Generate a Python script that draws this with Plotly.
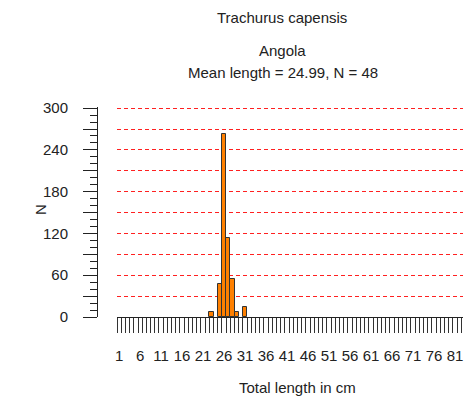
import plotly.graph_objects as go

# Data
lengths = [23, 25, 26, 27, 28, 29, 31]
counts = [7, 47, 263, 113, 55, 7, 15]
x_tick_vals = list(range(1, 82, 5))
y_major_ticks = list(range(0, 301, 30))
y_major_text = [str(v) if v % 60 == 0 else "" for v in y_major_ticks]
y_small_ticks = list(range(0, 301, 10))

title1 = "Trachurus capensis"
title2 = "Angola"
title3 = "Mean length = 24.99, N = 48"
x_title = "Total length in cm"
y_title = "N"

W, H = 465, 398
ML, MR, MT, MB = 97, 2, 107, 81
PW = W - ML - MR
PH = H - MT - MB
Y_RANGE = [0, 301.6]

def px_x(p):
    return (p - ML) / PW

def px_y(p):
    return (H - MB - p) / PH

FONT = "Liberation Sans, Arial, sans-serif"
TXT = "#222222"
GRID = "#FF2020"
AX = "#222222"

fig = go.Figure()
fig.add_trace(
    go.Bar(
        x=lengths,
        y=counts,
        width=1,
        marker=dict(color="#FF8000", line=dict(color="#333333", width=1)),
    )
)
# helper (empty) trace so the short-tick axis is drawn
fig.add_trace(go.Scatter(x=[], y=[], yaxis="y2", hoverinfo="skip"))

common_y = dict(
    anchor="free",
    position=0,
    range=Y_RANGE,
    automargin=False,
    tickmode="array",
    ticks="outside",
    tickcolor=AX,
    tickwidth=1,
    showline=True,
    linecolor=AX,
    linewidth=1,
    zeroline=False,
    tickfont=dict(family=FONT, size=15, color=TXT),
)

fig.update_layout(
    width=W,
    height=H,
    margin=dict(l=ML, r=MR, t=MT, b=MB, pad=0, autoexpand=False),
    paper_bgcolor="white",
    plot_bgcolor="white",
    bargap=0,
    showlegend=False,
    font=dict(family=FONT, size=15, color=TXT),
    xaxis=dict(
        domain=[px_x(117), 1],
        range=[0.5, 82.9],
        automargin=False,
        tickmode="array",
        tickvals=x_tick_vals,
        ticktext=[str(v) for v in x_tick_vals],
        ticks="outside",
        ticklen=15,
        tickcolor="rgba(0,0,0,0)",
        ticklabelstandoff=10,
        showline=True,
        linecolor=AX,
        linewidth=1,
        showgrid=False,
        zeroline=False,
        minor=dict(ticks="outside", ticklen=15, tick0=0.5, dtick=1,
                   tickcolor="#333333", tickwidth=1, showgrid=False),
        tickfont=dict(family=FONT, size=15, color=TXT),
    ),
    yaxis=dict(
        **common_y,
        tickvals=y_major_ticks,
        ticktext=y_major_text,
        ticklen=14,
        ticklabelstandoff=12,
        showgrid=True,
        gridcolor=GRID,
        gridwidth=1,
        griddash="4px,3px",
    ),
    yaxis2=dict(
        **common_y,
        overlaying="y",
        side="left",
        tickvals=y_small_ticks,
        ticktext=["" for _ in y_small_ticks],
        ticklen=7,
        showgrid=False,
    ),
)

annots = [
    (title1, px_x(282), px_y(18), 0),
    (title2, px_x(282), px_y(50), 0),
    (title3, px_x(283), px_y(73), 0),
    (x_title, px_x(297), px_y(387), 0),
    (y_title, px_x(40), px_y(210), -90),
]
for text, ax, ay, ang in annots:
    fig.add_annotation(
        text=text, x=ax, y=ay, xref="paper", yref="paper",
        xanchor="center", yanchor="middle", showarrow=False,
        textangle=ang, font=dict(family=FONT, size=15, color=TXT),
    )

fig.write_html(
    "out.html",
    config={"displayModeBar": False},
    post_script="document.body.style.margin='0';",
)
